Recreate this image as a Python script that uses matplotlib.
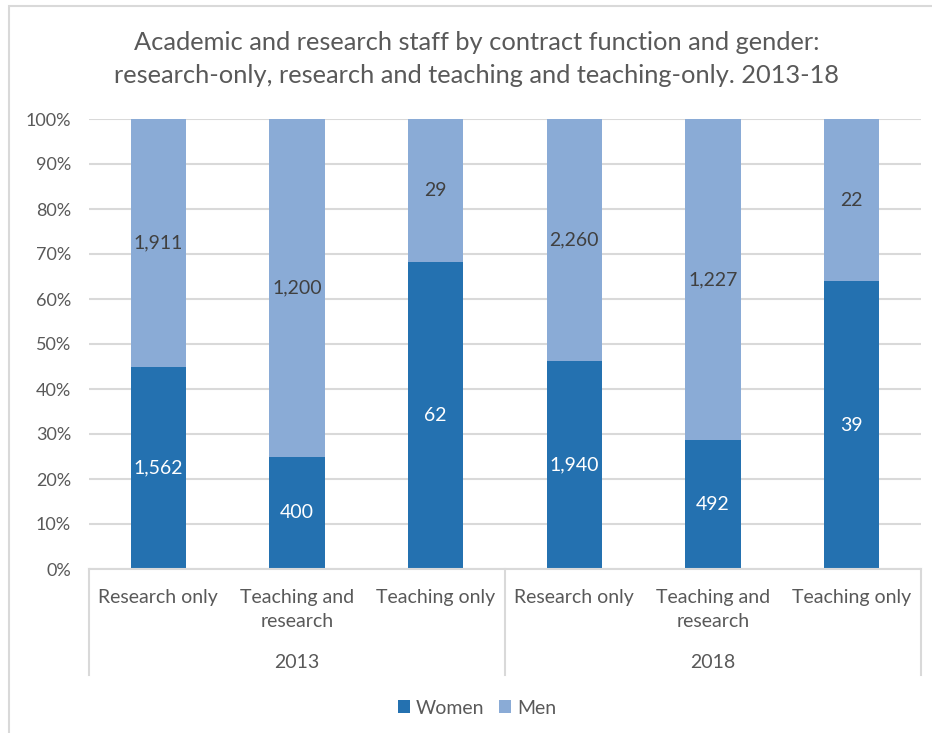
import matplotlib.pyplot as plt
import numpy as np
from matplotlib.patches import Rectangle

# data (headcounts)
years = ['2013', '2018']
functions = ['Research only', 'Teaching and\nresearch', 'Teaching only']
women = [1562, 400, 62, 1940, 492, 39]
men = [1911, 1200, 29, 2260, 1227, 22]
yticks = [0, 10, 20, 30, 40, 50, 60, 70, 80, 90, 100]

WOMEN_C = '#2471B0'
MEN_C = '#8AABD6'
GRID_C = '#D9D9D9'
TEXT_C = '#595959'

plt.rcParams['font.family'] = ['Lato', 'DejaVu Sans']

women = np.array(women)
men = np.array(men)
total = women + men
w_share = women / total * 100
m_share = men / total * 100
x = np.arange(len(women))

W, H = 932, 733
fig = plt.figure(figsize=(W / 100, H / 100), dpi=100)
ax = fig.add_axes([89 / W, 1 - 569 / H, 832 / W, 450 / H])

ax.bar(x, w_share, 0.4, color=WOMEN_C, label='Women', zorder=2)
ax.bar(x, m_share, 0.4, bottom=w_share, color=MEN_C, label='Men', zorder=2)

# value labels in the middle of each segment
for xi, w, m, ws, ms in zip(x, women, men, w_share, m_share):
    ax.text(xi, ws / 2, f'{w:,}', ha='center', va='center',
            color='white', fontsize=14, zorder=3)
    ax.text(xi, ws + ms / 2, f'{m:,}', ha='center', va='center',
            color='#404040', fontsize=14, zorder=3)

ax.set_xlim(-0.5, len(x) - 0.5)
ax.set_ylim(0, 100)
ax.set_yticks(yticks, [f'{t}%' for t in yticks])
ax.tick_params(axis='y', length=0, pad=13, labelsize=13, labelcolor=TEXT_C)
ax.set_xticks([])
ax.yaxis.grid(True, color=GRID_C, lw=1.5, zorder=0)
for s in ['left', 'top', 'right']:
    ax.spines[s].set_visible(False)
ax.spines['bottom'].set_color(GRID_C)
ax.spines['bottom'].set_linewidth(1.5)

# two-level category axis
for i, xi in enumerate(x):
    ax.annotate(functions[i % 3], xy=(xi, 0), xycoords=('data', 'axes fraction'),
                xytext=(0, -20), textcoords='offset pixels', ha='center', va='top',
                fontsize=14, color=TEXT_C, linespacing=1.5)
for j, yr in enumerate(years):
    ax.annotate(yr, xy=(3 * j + 1, 0), xycoords=('data', 'axes fraction'),
                xytext=(0, -94), textcoords='offset pixels', ha='center', va='center',
                fontsize=14, color=TEXT_C)
for sx in [-0.5, 2.5, 5.5]:
    ax.plot([sx, sx], [0, -106 / 450], color=GRID_C, lw=1.5,
            transform=ax.get_xaxis_transform(), clip_on=False)

fig.text(477 / W, 1 - 59 / H,
         'Academic and research staff by contract function and gender:\n'
         'research-only, research and teaching and teaching-only. 2013-18',
         ha='center', va='center', fontsize=18.3, color=TEXT_C, linespacing=1.5)

fig.legend(loc='center', bbox_to_anchor=(477 / W, 1 - 708 / H), ncol=2,
           frameon=False, fontsize=14, handlelength=0.6, handleheight=0.6,
           handletextpad=0.3, columnspacing=0.8, labelcolor=TEXT_C)

# outer chart border (clipped by the screenshot on the right and bottom)
fig.patches.append(Rectangle((9 / W, -0.1), 1.2, 1 - 6 / H + 0.1,
                             transform=fig.transFigure, fill=False,
                             edgecolor=GRID_C, lw=1.5))

fig.savefig('out.png', dpi=100)
